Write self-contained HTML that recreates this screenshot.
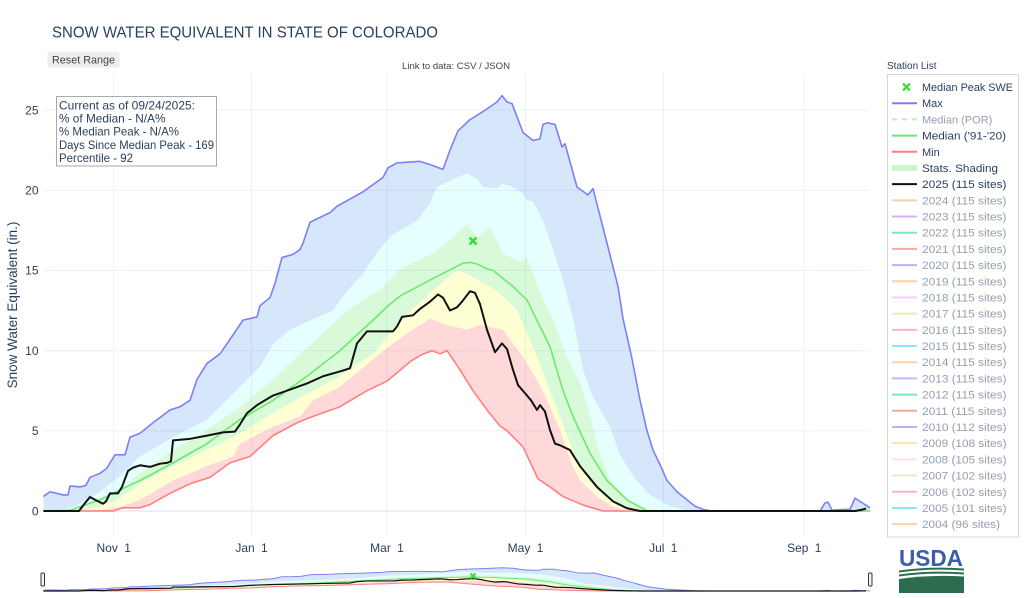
<!DOCTYPE html>
<html><head><meta charset="utf-8">
<style>
html,body{margin:0;padding:0;background:#fff;}
svg{display:block;font-family:"Liberation Sans","DejaVu Sans",sans-serif;}
.ln{fill:none;stroke-linejoin:round;vector-effect:non-scaling-stroke;}
</style></head><body>
<svg width="1024" height="598" viewBox="0 0 1024 598" xmlns="http://www.w3.org/2000/svg" xmlns:xlink="http://www.w3.org/1999/xlink">
<defs>
<clipPath id="pc"><rect x="43.3" y="73" width="826.7" height="464"/></clipPath>
<clipPath id="sc"><rect x="43.3" y="560" width="826.7" height="34"/></clipPath>
</defs>
<rect width="1024" height="598" fill="#fff"/>
<g stroke="#ebf0f8" stroke-width="1">
<line x1="43.3" x2="870" y1="430.8" y2="430.8"/>
<line x1="43.3" x2="870" y1="350.6" y2="350.6"/>
<line x1="43.3" x2="870" y1="270.4" y2="270.4"/>
<line x1="43.3" x2="870" y1="190.2" y2="190.2"/>
<line x1="43.3" x2="870" y1="110" y2="110"/>
<line x1="113.7" x2="113.7" y1="73" y2="537"/>
<line x1="251.5" x2="251.5" y1="73" y2="537"/>
<line x1="387" x2="387" y1="73" y2="537"/>
<line x1="525.5" x2="525.5" y1="73" y2="537"/>
<line x1="663.3" x2="663.3" y1="73" y2="537"/>
<line x1="804.3" x2="804.3" y1="73" y2="537"/>
<line x1="43.3" x2="870" y1="511" y2="511" stroke-width="2"/>
</g>

<g clip-path="url(#pc)">
<g transform="matrix(1,0,0,-16.04,0,511)">
<g id="bands">
<path fill="rgba(0,100,230,0.16)" d="M43.3,0.9 L50,1.2 57,1.1 63,1 68,1 70,1.56 80,1.5 86,1.6 90,2.1 100,2.35 106.7,2.66 110,3 115,3.5 125,3.5 130,4.6 140,4.85 153,5.5 170,6.3 180,6.5 190,6.9 197,8.2 207,9.2 220,9.8 230,10.7 243,11.9 257,12.1 260,12.8 270,13.3 275,14.2 282,15.8 293,16 300,16.3 303,16.7 310,18 330,18.6 337,19 363,19.9 383,20.8 388,21.4 397,21.7 420,21.8 430,21.6 443,21.3 450,22.5 458,23.7 470,24.4 483,24.9 497,25.5 502,25.9 507,25.5 512,25.4 523,23.6 533,23.1 540,23.2 543,24.1 547,24.2 555,24.1 562,22.7 565,22.9 577,20.2 588,19.7 593,20.1 607,16.7 618,14 623,12 632,9.5 640,6.9 647,5 653,3.8 660,2.9 667,1.9 677,1.2 687,0.7 695,0.3 703,0.1 712,0 820,0 825,0.5 828,0.55 832,0.05 845,0.1 850,0.1 855,0.8 860,0.6 870,0.2 L870,0 690,0 670,0.3 650,1 635,2 620,3.5 610,5.25 593,7.1 583,8.8 573,12 563,14.4 553,16.3 543,18.1 533,19.3 527,19.4 523,19.8 513,20.2 503,20.4 497,20.1 483,20.2 477,20.7 467,21.05 457,20.8 437,20.2 430,19.2 417,18.1 400,17.5 390,17.1 377,16.1 363,14.8 347,13.7 333,12.5 307,11.8 290,11.3 273,10.4 260,9 240,7.75 207,5.7 173,4.6 140,3.4 120,2.2 100,1.2 75,0.3 55,0 43.3,0Z"/>
<path fill="rgba(0,255,255,0.1)" d="M43.3,0 L55,0 75,0.3 100,1.2 120,2.2 140,3.4 173,4.6 207,5.7 240,7.75 260,9 273,10.4 290,11.3 307,11.8 333,12.5 347,13.7 363,14.8 377,16.1 390,17.1 400,17.5 417,18.1 430,19.2 437,20.2 457,20.8 467,21.05 477,20.7 483,20.2 497,20.1 503,20.4 513,20.2 523,19.8 527,19.4 533,19.3 543,18.1 553,16.3 563,14.4 573,12 583,8.8 593,7.1 610,5.25 620,3.5 635,2 650,1 670,0.3 690,0 870,0 L870,0 660,0 645,0.2 625,0.8 610,2 600,3.5 590,5.9 580,8 567,9.6 553,11.9 540,13.6 527,15.85 520,15.55 503,16.05 490,17.7 477,17.1 467,17.9 457,17.3 450,16.9 433,16.05 400,15.1 380,13.8 347,12.5 327,11.3 300,9.8 273,8.2 240,6.5 207,5.05 173,3.8 140,2.35 110,0.9 80,0.2 60,0 43.3,0Z"/>
<path fill="rgba(0,220,0,0.15)" d="M43.3,0 L60,0 80,0.2 110,0.9 140,2.35 173,3.8 207,5.05 240,6.5 273,8.2 300,9.8 327,11.3 347,12.5 380,13.8 400,15.1 433,16.05 450,16.9 457,17.3 467,17.9 477,17.1 490,17.7 503,16.05 520,15.55 527,15.85 540,13.6 553,11.9 567,9.6 580,8 590,5.9 600,3.5 610,2 625,0.8 645,0.2 660,0 870,0 L870,0 635,0 620,0.3 600,1.1 585,2.2 575,3.5 565,5.05 560,5.9 550,7.5 537,9.6 527,11.1 517,12.5 507,13.15 493,13.9 480,14.3 467,14.8 457,15 447,14.5 430,13.6 413,12.6 393,11.3 373,9.8 340,8.4 307,7.3 273,6.1 240,4.85 207,3.8 173,2.8 140,1.7 120,0.8 100,0.3 80,0 43.3,0Z"/>
<path fill="rgba(255,255,0,0.17)" d="M43.3,0 L80,0 100,0.3 120,0.8 140,1.7 173,2.8 207,3.8 240,4.85 273,6.1 307,7.3 340,8.4 373,9.8 393,11.3 413,12.6 430,13.6 447,14.5 457,15 467,14.8 480,14.3 493,13.9 507,13.15 517,12.5 527,11.1 537,9.6 550,7.5 560,5.9 565,5.05 575,3.5 585,2.2 600,1.1 620,0.3 635,0 870,0 L870,0 627,0 613,0.27 597,0.9 580,1.9 570,3.2 560,5.05 550,6.5 537,8.2 523,9.6 513,10.45 503,11.3 480,11.6 467,11.3 447,11.6 430,12 410,11.2 393,10.45 380,9.8 360,8.8 340,7.75 313,6.9 300,5.9 273,5.25 240,4.2 233,3.4 207,2.8 173,1.9 140,0.7 120,0.25 95,0 43.3,0Z"/>
<path fill="rgba(255,0,0,0.15)" d="M43.3,0 L95,0 120,0.25 140,0.7 173,1.9 207,2.8 233,3.4 240,4.2 273,5.25 300,5.9 313,6.9 340,7.75 360,8.8 380,9.8 393,10.45 410,11.2 430,12 447,11.6 467,11.3 480,11.6 503,11.3 513,10.45 523,9.6 537,8.2 550,6.5 560,5.05 570,3.2 580,1.9 597,0.9 613,0.27 627,0 870,0 L870,0 603,0 583,0.37 563,0.9 550,1.5 538,2 523,4 507,5 500,5.3 487,6.3 473,7.5 460,8.8 447,10 440,9.8 432,10 420,9.7 410,9.3 387,8.1 367,7.5 340,6.5 313,5.9 297,5.5 273,4.7 250,3.4 230,3 210,2.1 190,1.7 170,1.1 150,0.4 140,0.2 123,0.2 113,0 43.3,0Z"/>
</g>
<path class="ln" stroke="#7f7ff5" stroke-width="1.6" d="M43.3,0.9 L50,1.2 57,1.1 63,1 68,1 70,1.56 80,1.5 86,1.6 90,2.1 100,2.35 106.7,2.66 110,3 115,3.5 125,3.5 130,4.6 140,4.85 153,5.5 170,6.3 180,6.5 190,6.9 197,8.2 207,9.2 220,9.8 230,10.7 243,11.9 257,12.1 260,12.8 270,13.3 275,14.2 282,15.8 293,16 300,16.3 303,16.7 310,18 330,18.6 337,19 363,19.9 383,20.8 388,21.4 397,21.7 420,21.8 430,21.6 443,21.3 450,22.5 458,23.7 470,24.4 483,24.9 497,25.5 502,25.9 507,25.5 512,25.4 523,23.6 533,23.1 540,23.2 543,24.1 547,24.2 555,24.1 562,22.7 565,22.9 577,20.2 588,19.7 593,20.1 607,16.7 618,14 623,12 632,9.5 640,6.9 647,5 653,3.8 660,2.9 667,1.9 677,1.2 687,0.7 695,0.3 703,0.1 712,0 820,0 825,0.5 828,0.55 832,0.05 845,0.1 850,0.1 855,0.8 860,0.6 870,0.2"/>
<path class="ln" stroke="#6fe86f" stroke-width="1.6" d="M43.3,0 L70,0.05 100,0.7 133,1.7 140,1.9 173,3 207,4.2 240,5.7 273,6.9 307,8.4 340,10 373,11.9 390,12.9 400,13.4 430,14.4 463,15.45 470,15.5 477,15.4 487,15.1 493,15 513,14 527,13.15 540,11.5 550,10.25 563,7.5 573,5.9 590,3.6 607,1.9 627,0.7 647,0 870,0"/>
<path class="ln" stroke="#ff8080" stroke-width="1.6" d="M43.3,0 L113,0 123,0.2 140,0.2 150,0.4 170,1.1 190,1.7 210,2.1 230,3 250,3.4 273,4.7 297,5.5 313,5.9 340,6.5 367,7.5 387,8.1 410,9.3 420,9.7 432,10 440,9.8 447,10 460,8.8 473,7.5 487,6.3 500,5.3 507,5 523,4 538,2 550,1.5 563,0.9 583,0.37 603,0 640,0"/>
<path class="ln" stroke="#111" stroke-width="2" d="M43.3,0 L79,0 85,0.5 90,0.87 95,0.7 103,0.45 106,0.6 110,1.1 118,1.1 122,1.5 128,2.5 133,2.7 140,2.85 150,2.75 160,2.95 167,3 171,3.1 173,4.4 190,4.5 207,4.7 223,4.9 235,4.95 240,5.4 247,6.1 257,6.6 273,7.2 287,7.5 307,7.95 323,8.4 340,8.7 350,8.9 357,10.45 367,11.2 393,11.2 397,11.5 402,12.1 413,12.2 420,12.6 430,13.05 438,13.5 443,13.3 450,12.5 457,12.7 462,13.05 470,13.7 475,13.6 480,12.9 487,11.3 495,9.9 502,10.45 507,10.1 513,8.8 518,7.85 527,7.2 531,6.9 537,6.3 540,6.6 545,6.2 550,5.05 555,4.2 560,4.1 570,3.8 580,2.8 597,1.5 613,0.6 627,0.17 640,0 855,0 862,0.08 866,0.15"/>
</g>
</g>
<path d="M469.5,237.5L476.5,244.5M476.5,237.5L469.5,244.5" stroke="#33dd33" stroke-width="2.4"/>

<!-- range slider -->
<g clip-path="url(#sc)">
<g transform="matrix(1,0,0,-0.9,0,591)">
<use href="#bands" xlink:href="#bands"/>
<path class="ln" stroke="#7f7ff5" stroke-width="1" d="M43.3,0.9 L50,1.2 57,1.1 63,1 68,1 70,1.56 80,1.5 86,1.6 90,2.1 100,2.35 106.7,2.66 110,3 115,3.5 125,3.5 130,4.6 140,4.85 153,5.5 170,6.3 180,6.5 190,6.9 197,8.2 207,9.2 220,9.8 230,10.7 243,11.9 257,12.1 260,12.8 270,13.3 275,14.2 282,15.8 293,16 300,16.3 303,16.7 310,18 330,18.6 337,19 363,19.9 383,20.8 388,21.4 397,21.7 420,21.8 430,21.6 443,21.3 450,22.5 458,23.7 470,24.4 483,24.9 497,25.5 502,25.9 507,25.5 512,25.4 523,23.6 533,23.1 540,23.2 543,24.1 547,24.2 555,24.1 562,22.7 565,22.9 577,20.2 588,19.7 593,20.1 607,16.7 618,14 623,12 632,9.5 640,6.9 647,5 653,3.8 660,2.9 667,1.9 677,1.2 687,0.7 695,0.3 703,0.1 712,0 820,0 825,0.5 828,0.55 832,0.05 845,0.1 850,0.1 855,0.8 860,0.6 870,0.2"/>
<path class="ln" stroke="#6fe86f" stroke-width="1" d="M43.3,0 L70,0.05 100,0.7 133,1.7 140,1.9 173,3 207,4.2 240,5.7 273,6.9 307,8.4 340,10 373,11.9 390,12.9 400,13.4 430,14.4 463,15.45 470,15.5 477,15.4 487,15.1 493,15 513,14 527,13.15 540,11.5 550,10.25 563,7.5 573,5.9 590,3.6 607,1.9 627,0.7 647,0 870,0"/>
<path class="ln" stroke="#ff8080" stroke-width="1" d="M43.3,0 L113,0 123,0.2 140,0.2 150,0.4 170,1.1 190,1.7 210,2.1 230,3 250,3.4 273,4.7 297,5.5 313,5.9 340,6.5 367,7.5 387,8.1 410,9.3 420,9.7 432,10 440,9.8 447,10 460,8.8 473,7.5 487,6.3 500,5.3 507,5 523,4 538,2 550,1.5 563,0.9 583,0.37 603,0 640,0"/>
<path class="ln" stroke="#111" stroke-width="1.2" d="M43.3,0 L79,0 85,0.5 90,0.87 95,0.7 103,0.45 106,0.6 110,1.1 118,1.1 122,1.5 128,2.5 133,2.7 140,2.85 150,2.75 160,2.95 167,3 171,3.1 173,4.4 190,4.5 207,4.7 223,4.9 235,4.95 240,5.4 247,6.1 257,6.6 273,7.2 287,7.5 307,7.95 323,8.4 340,8.7 350,8.9 357,10.45 367,11.2 393,11.2 397,11.5 402,12.1 413,12.2 420,12.6 430,13.05 438,13.5 443,13.3 450,12.5 457,12.7 462,13.05 470,13.7 475,13.6 480,12.9 487,11.3 495,9.9 502,10.45 507,10.1 513,8.8 518,7.85 527,7.2 531,6.9 537,6.3 540,6.6 545,6.2 550,5.05 555,4.2 560,4.1 570,3.8 580,2.8 597,1.5 613,0.6 627,0.17 640,0 855,0 862,0.08 866,0.15"/>
</g>
</g>
<path d="M470.5,573.5L475.5,578.5M475.5,573.5L470.5,578.5" stroke="#33dd33" stroke-width="2"/>
<rect x="41" y="573" width="3.5" height="13" rx="1" fill="#f2f2f2" stroke="#333" stroke-width="1"/>
<rect x="868.5" y="573" width="3.5" height="13" rx="1" fill="#f2f2f2" stroke="#333" stroke-width="1"/>

<!-- y ticks -->
<g fill="#2a3f5f" font-size="12" text-anchor="end">
<text x="38.5" y="515.3">0</text>
<text x="38.5" y="435.1">5</text>
<text x="38.5" y="354.9">10</text>
<text x="38.5" y="274.7">15</text>
<text x="38.5" y="194.5">20</text>
<text x="38.5" y="114.3">25</text>
</g>
<g fill="#2a3f5f" font-size="12" text-anchor="middle" word-spacing="3">
<text x="113.7" y="552">Nov 1</text>
<text x="251.5" y="552">Jan 1</text>
<text x="387" y="552">Mar 1</text>
<text x="525.5" y="552">May 1</text>
<text x="663.3" y="552">Jul 1</text>
<text x="804.3" y="552">Sep 1</text>
</g>
<text transform="translate(17,305) rotate(-90)" text-anchor="middle" fill="#2a3f5f" font-size="13.5">Snow Water Equivalent (in.)</text>

<!-- title -->
<text x="52" y="37.5" fill="#2a3f5f" font-size="15.3" textLength="386" lengthAdjust="spacingAndGlyphs">SNOW WATER EQUIVALENT IN STATE OF COLORADO</text>
<rect x="47.5" y="52" width="72" height="15.5" rx="2" fill="#eeeeee"/>
<text x="52" y="63.6" fill="#444" font-size="11" textLength="63" lengthAdjust="spacingAndGlyphs">Reset Range</text>
<text x="402" y="69" fill="#444" font-size="9.5" textLength="108" lengthAdjust="spacingAndGlyphs">Link to data: CSV / JSON</text>

<!-- annotation -->
<rect x="56.5" y="96.5" width="160" height="69.5" fill="#fff" stroke="#aaa" stroke-width="1"/>
<g fill="#2a3f5f" font-size="11.6">
<text x="59" y="109.5" textLength="136" lengthAdjust="spacingAndGlyphs">Current as of 09/24/2025:</text>
<text x="59" y="122.6" textLength="106.5" lengthAdjust="spacingAndGlyphs">% of Median - N/A%</text>
<text x="59" y="135.7" textLength="120" lengthAdjust="spacingAndGlyphs">% Median Peak - N/A%</text>
<text x="59" y="148.8" textLength="155" lengthAdjust="spacingAndGlyphs">Days Since Median Peak - 169</text>
<text x="59" y="161.9" textLength="74" lengthAdjust="spacingAndGlyphs">Percentile - 92</text>
</g>

<!-- legend -->
<text x="887" y="69" fill="#2a3f5f" font-size="10">Station List</text>
<rect x="887.5" y="74.5" width="131" height="462.5" fill="#fff" stroke="#d6d6d6" stroke-width="1"/>
<g font-size="11" fill="#2a3f5f">
<g transform="translate(0,87)"><path d="M903,-3.5L910,3.5M910,-3.5L903,3.5" stroke="#33dd33" stroke-width="2.2"/><text x="922" y="4" textLength="91" lengthAdjust="spacingAndGlyphs">Median Peak SWE</text></g>
<g transform="translate(0,103.19)"><line x1="892" x2="917" stroke="#7f7ff5" stroke-width="2"/><text x="922" y="4">Max</text></g>
<g transform="translate(0,119.38)" opacity="0.5"><line x1="892" x2="917" stroke="#6fe86f" stroke-width="2" stroke-dasharray="5,5"/><text x="922" y="4">Median (POR)</text></g>
<g transform="translate(0,135.57)"><line x1="892" x2="917" stroke="#6fe86f" stroke-width="2"/><text x="922" y="4" textLength="84" lengthAdjust="spacingAndGlyphs">Median ('91-'20)</text></g>
<g transform="translate(0,151.76)"><line x1="892" x2="917" stroke="#ff8080" stroke-width="2"/><text x="922" y="4">Min</text></g>
<g transform="translate(0,167.95)"><rect x="892" y="-3" width="25" height="6" fill="#ccf7cc"/><text x="922" y="4" textLength="76" lengthAdjust="spacingAndGlyphs">Stats. Shading</text></g>
<g transform="translate(0,184.14)"><line x1="892" x2="917" stroke="#111" stroke-width="2"/><text x="922" y="4" textLength="84.5" lengthAdjust="spacingAndGlyphs">2025 (115 sites)</text></g>
<g opacity="0.5">
<g transform="translate(0,200.33)"><line x1="892" x2="917" stroke="#ffa15a" stroke-width="2"/><text x="922" y="4" textLength="84.5" lengthAdjust="spacingAndGlyphs">2024 (115 sites)</text></g>
<g transform="translate(0,216.52)"><line x1="892" x2="917" stroke="#ab63fa" stroke-width="2"/><text x="922" y="4" textLength="84.5" lengthAdjust="spacingAndGlyphs">2023 (115 sites)</text></g>
<g transform="translate(0,232.71)"><line x1="892" x2="917" stroke="#00cc96" stroke-width="2"/><text x="922" y="4" textLength="84.5" lengthAdjust="spacingAndGlyphs">2022 (115 sites)</text></g>
<g transform="translate(0,248.9)"><line x1="892" x2="917" stroke="#ef553b" stroke-width="2"/><text x="922" y="4" textLength="84.5" lengthAdjust="spacingAndGlyphs">2021 (115 sites)</text></g>
<g transform="translate(0,265.09)"><line x1="892" x2="917" stroke="#636efa" stroke-width="2"/><text x="922" y="4" textLength="84.5" lengthAdjust="spacingAndGlyphs">2020 (115 sites)</text></g>
<g transform="translate(0,281.28)"><line x1="892" x2="917" stroke="#ffa15a" stroke-width="2"/><text x="922" y="4" textLength="84.5" lengthAdjust="spacingAndGlyphs">2019 (115 sites)</text></g>
<g transform="translate(0,297.47)"><line x1="892" x2="917" stroke="#ff97ff" stroke-width="2"/><text x="922" y="4" textLength="84.5" lengthAdjust="spacingAndGlyphs">2018 (115 sites)</text></g>
<g transform="translate(0,313.66)"><line x1="892" x2="917" stroke="#b6e880" stroke-width="2"/><text x="922" y="4" textLength="84.5" lengthAdjust="spacingAndGlyphs">2017 (115 sites)</text></g>
<g transform="translate(0,329.85)"><line x1="892" x2="917" stroke="#ff6692" stroke-width="2"/><text x="922" y="4" textLength="84.5" lengthAdjust="spacingAndGlyphs">2016 (115 sites)</text></g>
<g transform="translate(0,346.04)"><line x1="892" x2="917" stroke="#19d3f3" stroke-width="2"/><text x="922" y="4" textLength="84.5" lengthAdjust="spacingAndGlyphs">2015 (115 sites)</text></g>
<g transform="translate(0,362.23)"><line x1="892" x2="917" stroke="#ffa15a" stroke-width="2"/><text x="922" y="4" textLength="84.5" lengthAdjust="spacingAndGlyphs">2014 (115 sites)</text></g>
<g transform="translate(0,378.42)"><line x1="892" x2="917" stroke="#ab63fa" stroke-width="2"/><text x="922" y="4" textLength="84.5" lengthAdjust="spacingAndGlyphs">2013 (115 sites)</text></g>
<g transform="translate(0,394.61)"><line x1="892" x2="917" stroke="#00cc96" stroke-width="2"/><text x="922" y="4" textLength="84.5" lengthAdjust="spacingAndGlyphs">2012 (115 sites)</text></g>
<g transform="translate(0,410.8)"><line x1="892" x2="917" stroke="#ef553b" stroke-width="2"/><text x="922" y="4" textLength="84.5" lengthAdjust="spacingAndGlyphs">2011 (115 sites)</text></g>
<g transform="translate(0,426.99)"><line x1="892" x2="917" stroke="#636efa" stroke-width="2"/><text x="922" y="4" textLength="84.5" lengthAdjust="spacingAndGlyphs">2010 (112 sites)</text></g>
<g transform="translate(0,443.18)"><line x1="892" x2="917" stroke="#fecb52" stroke-width="2"/><text x="922" y="4" textLength="84.5" lengthAdjust="spacingAndGlyphs">2009 (108 sites)</text></g>
<g transform="translate(0,459.37)"><line x1="892" x2="917" stroke="#ff97ff" stroke-width="2" stroke-dasharray="1.5,1"/><text x="922" y="4" textLength="84.5" lengthAdjust="spacingAndGlyphs">2008 (105 sites)</text></g>
<g transform="translate(0,475.56)"><line x1="892" x2="917" stroke="#b6e880" stroke-width="2"/><text x="922" y="4" textLength="84.5" lengthAdjust="spacingAndGlyphs">2007 (102 sites)</text></g>
<g transform="translate(0,491.75)"><line x1="892" x2="917" stroke="#ff6692" stroke-width="2"/><text x="922" y="4" textLength="84.5" lengthAdjust="spacingAndGlyphs">2006 (102 sites)</text></g>
<g transform="translate(0,507.94)"><line x1="892" x2="917" stroke="#19d3f3" stroke-width="2"/><text x="922" y="4" textLength="84.5" lengthAdjust="spacingAndGlyphs">2005 (101 sites)</text></g>
<g transform="translate(0,524.13)"><line x1="892" x2="917" stroke="#ffa15a" stroke-width="2"/><text x="922" y="4" textLength="78" lengthAdjust="spacingAndGlyphs">2004 (96 sites)</text></g>
</g>
</g>

<!-- USDA logo -->
<text x="899" y="566" fill="#3c5ea9" font-size="23" font-weight="bold" textLength="64" lengthAdjust="spacingAndGlyphs">USDA</text>
<path d="M899,570.5 Q930,566 964,568.5 L964,570.5 Q930,568 899,572.5Z" fill="#2d6d4f"/>
<path d="M899,574.5 Q930,570 964,572.5 L964,574.5 Q930,572 899,576.5Z" fill="#2d6d4f"/>
<path d="M899,579 Q930,574.5 964,576.5 L964,593 L899,593Z" fill="#2d6d4f"/>
</svg>
</body></html>
